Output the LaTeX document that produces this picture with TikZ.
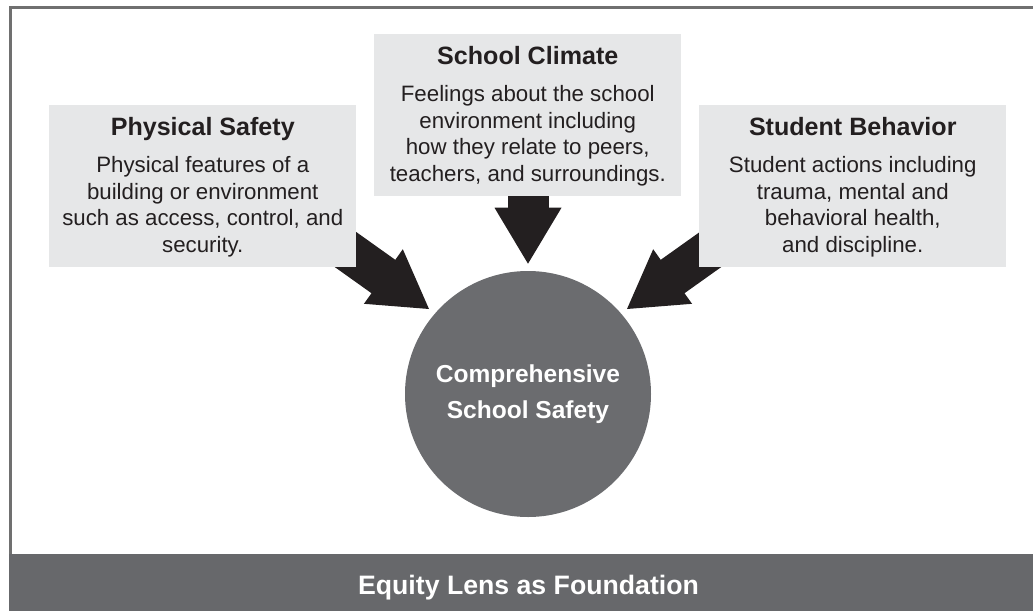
\documentclass[tikz,border=0pt]{standalone}
\usepackage{fontspec}
\setmainfont{Liberation Sans}
\usetikzlibrary{arrows.meta,calc}
\definecolor{boxfill}{HTML}{E6E7E8}
\definecolor{ink}{HTML}{231F20}
\definecolor{midgray}{HTML}{6B6C6F}
\definecolor{bargray}{HTML}{67686B}
\definecolor{framegray}{HTML}{707070}
\tikzset{
  infobox/.style={fill=boxfill, draw=none, minimum width=230.25pt, minimum height=121.5pt, anchor=north west, inner sep=0pt},
  boxtitle/.style={anchor=base, inner sep=0pt, text=ink, font=\bfseries\fontsize{18.8}{22}\selectfont},
  boxbody/.style={anchor=north, inner sep=0pt, align=center, text=ink, font=\fontsize{16.7}{20}\selectfont},
  bigarrow/.style={draw=ink, line width=30.75pt, line cap=rect,
    -{Triangle[width=50.25pt, length=42pt, line width=0pt]}, ink},
}
\begin{document}
\begin{tikzpicture}[x=0.75pt, y=-0.75pt]
\useasboundingbox (0,0) rectangle (1033,611);
% frame
\draw[framegray, line width=2.25pt] (10,611) -- (10,7.5) -- (1040,7.5);
% central circle
\node[circle, fill=midgray, minimum size=184.5pt, inner sep=0pt, align=center, text=white,
  font=\bfseries\fontsize{18.4}{25.5}\selectfont] (circ) at (528,394) {Comprehensive\\[1.5pt]School Safety};
% arrow tails (hidden behind the boxes) and tips near the circle
\coordinate (tailL) at (323,233.5);
\coordinate (tipL) at (429,309);
\coordinate (tailM) at (528,150);
\coordinate (tailR) at (733,233.5);
\coordinate (tipR) at (627,309);
\draw[bigarrow] (tailL) -- (tipL);
\draw[bigarrow, shorten >=5.25pt] (tailM) -- (circ);
\draw[bigarrow] (tailR) -- (tipR);
% boxes
\node[infobox] (phys) at (49,105) {};
\node[infobox] (clim) at (374,34) {};
\node[infobox] (behav) at (699,105) {};
\node[boxtitle] (physT) at ($(phys.north)+(0,30)$) {Physical Safety};
\node[boxbody] (physB) at ($(phys.north)+(0,51)$) {Physical features of a\\building or environment\\such as access, control, and\\security.};
\node[boxtitle] (climT) at ($(clim.north)+(0,30)$) {School Climate};
\node[boxbody] (climB) at ($(clim.north)+(0,51)$) {Feelings about the school\\environment including\\how they relate to peers,\\teachers, and surroundings.};
\node[boxtitle] (behavT) at ($(behav.north)+(0,30)$) {Student Behavior};
\node[boxbody] (behavB) at ($(behav.north)+(0,51)$) {Student actions including\\trauma, mental and\\behavioral health,\\and discipline.};
% foundation bar
\node[fill=bargray, minimum width=768pt, minimum height=42.75pt, inner sep=0pt, anchor=south west] (bar) at (9,611) {};
\node[text=white, inner sep=0pt, font=\bfseries\fontsize{20}{24}\selectfont] (barT) at (528.5,588) {Equity Lens as Foundation};
\end{tikzpicture}
\end{document}
